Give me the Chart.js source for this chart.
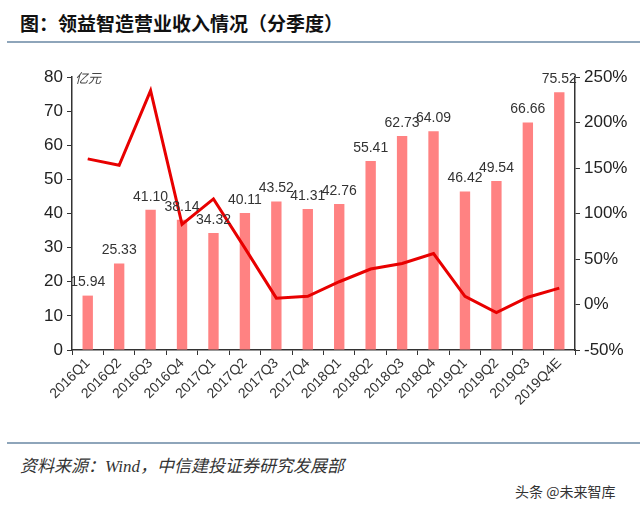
<!DOCTYPE html>
<html>
<head>
<meta charset="utf-8">
<script src="https://cdn.jsdelivr.net/npm/chart.js@4.4.0/dist/chart.umd.min.js"></script>
<style>
  body { margin: 0; background: #fff; width: 640px; height: 509px; position: relative; overflow: hidden; }
  .title { position: absolute; left: 20px; top: 9px; font: bold 19px "Noto Sans CJK SC", sans-serif; color: #111; }
  .rule { position: absolute; left: 7px; right: 0; height: 2px; background: #8ea5ba; }
  .src { position: absolute; left: 20px; top: 452px; font: italic 17px "Liberation Serif", "Noto Sans CJK SC", serif; color: #333; }
  .wm { position: absolute; left: 515px; top: 481px; font: 14px "Noto Sans CJK SC", sans-serif; color: #333; }
  .unit { position: absolute; left: 75px; top: 68px; font: italic 13px "Noto Sans CJK SC", sans-serif; color: #444; }
  #wrap { position: absolute; left: 0; top: 55px; width: 640px; height: 385px; }
</style>
</head>
<body>
<div class="title">图：领益智造营业收入情况（分季度）</div>
<div class="rule" style="top:41px"></div>
<div id="wrap"><canvas id="chart"></canvas></div>
<div class="unit">亿元</div>
<div class="rule" style="top:442px"></div>
<div class="src">资料来源：Wind，中信建投证券研究发展部</div>
<div class="wm">头条 @未来智库</div>
<script>
// 季度营收（亿元）与同比增速（%）
const quarters = ['2016Q1','2016Q2','2016Q3','2016Q4','2017Q1','2017Q2','2017Q3','2017Q4',
                  '2018Q1','2018Q2','2018Q3','2018Q4','2019Q1','2019Q2','2019Q3','2019Q4E'];
const revenue = [15.94, 25.33, 41.10, 38.14, 34.32, 40.11, 43.52, 41.31,
                 42.76, 55.41, 62.73, 64.09, 46.42, 49.54, 66.66, 75.52];
const growth = [160, 153, 235, 88, 116, 62, 7, 9, 25, 39, 45, 56, 9, -9, 8, 18];

// 柱子顶部的数值标签
const barLabels = {
    id: 'barLabels',
    afterDatasetsDraw(chart) {
        const ctx = chart.ctx;
        const meta = chart.getDatasetMeta(1);
        ctx.save();
        ctx.font = '14px "Liberation Sans", Arial, sans-serif';
        ctx.fillStyle = '#333';
        ctx.textAlign = 'center';
        ctx.textBaseline = 'bottom';
        meta.data.forEach((bar, i) => {
            ctx.fillText(revenue[i].toFixed(2), bar.x, bar.y - 6);
        });
        ctx.restore();
    }
};

const tickFont = { family: '"Liberation Sans", Arial, sans-serif', size: 17 };

new Chart(document.getElementById('chart'), {
    type: 'bar',
    data: {
        labels: quarters,
        datasets: [{
            type: 'line',
            data: growth,
            yAxisID: 'y1',
            borderColor: '#e80000',
            borderWidth: 3,
            pointRadius: 0,
            tension: 0,
            order: 0
        }, {
            type: 'bar',
            data: revenue,
            yAxisID: 'y',
            backgroundColor: '#ff8282',
            barPercentage: 0.33,
            categoryPercentage: 1,
            order: 1
        }]
    },
    options: {
        responsive: true,
        maintainAspectRatio: false,
        animation: false,
        layout: { padding: { top: 22, left: 0, right: 0, bottom: 0 } },
        plugins: { legend: { display: false }, tooltip: { enabled: false } },
        scales: {
            x: {
                grid: { display: true, drawOnChartArea: false, offset: true, color: '#333', tickLength: 5 },
                border: { color: '#333', width: 1.5 },
                ticks: { color: '#333', font: { family: tickFont.family, size: 14 }, maxRotation: 45, minRotation: 45, padding: 0 },
                afterFit(scale) { scale.height = 90; }
            },
            y: {
                position: 'left',
                min: 0, max: 80,
                ticks: { stepSize: 10, color: '#222', font: tickFont, padding: 4 },
                grid: { drawOnChartArea: false, color: '#333', tickLength: 5 },
                border: { color: '#333', width: 1.5 },
                afterFit(scale) { scale.width = 72; }
            },
            y1: {
                position: 'right',
                min: -50, max: 250,
                ticks: { stepSize: 50, color: '#222', font: tickFont, padding: 4, callback: v => v + '%' },
                grid: { drawOnChartArea: false, color: '#333', tickLength: 5 },
                border: { color: '#333', width: 1.5 },
                afterFit(scale) { scale.width = 65; }
            }
        }
    },
    plugins: [barLabels]
});
</script>
</body>
</html>
